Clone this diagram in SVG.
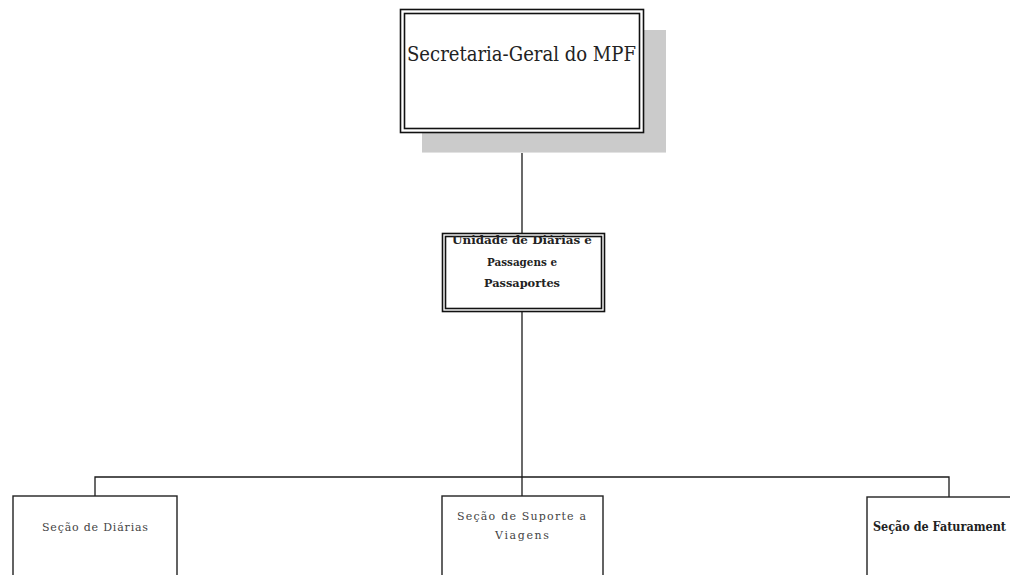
<svg xmlns="http://www.w3.org/2000/svg" width="1010" height="575" viewBox="0 0 1010 575">
<style>
.ln{stroke:#1a1a1a;stroke-width:1.3;fill:none}
.box{fill:#fff;stroke:#222;stroke-width:1.4}
.dbl{fill:none;stroke:#111;stroke-width:1.6}
.t{font-family:"DejaVu Serif","Liberation Serif",serif;fill:#222}
.lt{font-family:"DejaVu Serif","Liberation Serif",serif;fill:#444;font-size:11px}
</style>
<rect width="1010" height="575" fill="#fff"/>
<g id="connectors">
<line class="ln" x1="522" y1="133" x2="522" y2="233"/>
<line class="ln" x1="522" y1="312" x2="522" y2="496"/>
<polyline class="ln" points="95,496 95,477 949,477 949,497"/>
</g>
<g id="secretaria">
<rect x="422" y="30" width="244" height="123" fill="#cbcbcb"/>
<line x1="422" y1="152.5" x2="666" y2="152.5" stroke="#e2e2e2" stroke-width="1"/>
<rect x="400" y="9" width="244" height="124" fill="#fff"/>
<rect class="dbl" x="400.5" y="9.5" width="243" height="123"/>
<rect class="dbl" x="404.5" y="13.5" width="235" height="115"/>
<text class="t" x="407" y="61" font-size="19.5" textLength="229" lengthAdjust="spacingAndGlyphs">Secretaria-Geral do MPF</text>
</g>
<g id="unidade">
<rect x="442" y="233" width="163" height="79" fill="#fff"/>
<rect class="dbl" x="442.5" y="233.5" width="162" height="78"/>
<rect class="dbl" x="445.5" y="236.5" width="156" height="72"/>
<text class="t" font-size="11.5" font-weight="bold" fill="#222"><tspan x="452" y="244" textLength="140" lengthAdjust="spacingAndGlyphs">Unidade de Diárias e</tspan><tspan x="487" y="266" textLength="70" lengthAdjust="spacingAndGlyphs">Passagens e</tspan><tspan x="484" y="287" textLength="76" lengthAdjust="spacingAndGlyphs">Passaportes</tspan></text>
</g>
<g id="secao-diarias">
<rect class="box" x="13" y="496" width="164" height="90"/>
<text class="lt" x="42" y="531" textLength="106" lengthAdjust="spacing">Seção de Diárias</text>
</g>
<g id="secao-suporte">
<rect class="box" x="442" y="496" width="161" height="90"/>
<text class="lt"><tspan x="457" y="520" textLength="129" lengthAdjust="spacing">Seção de Suporte a</tspan><tspan x="495" y="539" textLength="54" lengthAdjust="spacing">Viagens</tspan></text>
</g>
<g id="secao-faturamento">
<rect class="box" x="867" y="497" width="160" height="90"/>
<text class="t" x="873" y="531" font-size="12" font-weight="bold" textLength="133" lengthAdjust="spacingAndGlyphs">Seção de Faturament</text>
</g>
</svg>
